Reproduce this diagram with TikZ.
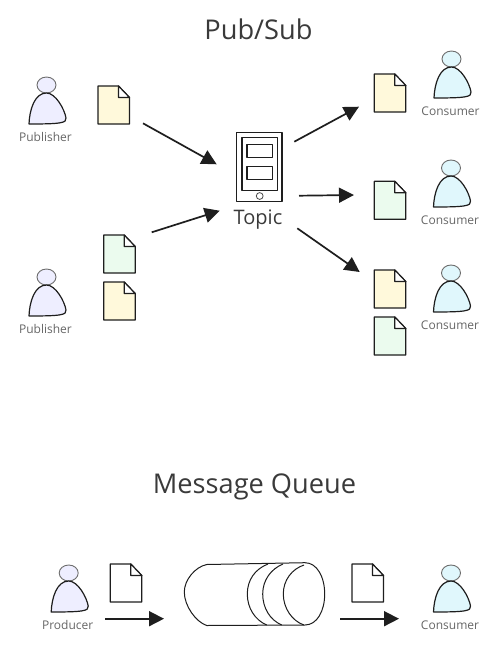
\documentclass[tikz,border=0pt]{standalone}
\usepackage{fontspec}
\setmainfont{Open Sans}[Numbers=Lining]
\usetikzlibrary{arrows.meta}
\definecolor{ink}{HTML}{1E1E1E}
\definecolor{txt}{HTML}{3A3A3A}
\definecolor{lab}{HTML}{666666}
\definecolor{pubfill}{HTML}{EEEEFF}
\definecolor{confill}{HTML}{E0F7FC}
\definecolor{docy}{HTML}{FFF9DB}
\definecolor{docg}{HTML}{EBFBEE}
\tikzset{
  x=1pt,y=-1pt,
  sk/.style={draw=ink,line width=1.2pt,line join=round},
  flow/.style={draw=ink,line width=1.7pt,-{Triangle[length=15pt,width=15pt]}},
  title/.style={text=txt,font=\fontsize{27.2}{31}\selectfont,inner sep=0pt},
  plabel/.style={text=lab,font=\fontsize{12}{14}\selectfont,inner sep=0pt},
  pics/person/.style n args={2}{code={
    \draw[draw=ink!65,line width=.9pt,fill=#1] (0,0) ellipse[x radius=9.5,y radius=8];
    \draw[sk,fill=#1] (-17.5,39) .. controls (-17,25) and (-12,8) .. (0,8)
      .. controls (9,8) and (18,24) .. (19.5,33)
      .. controls (20.5,38) and (14,39) .. (-17.5,39) -- cycle;
    \node[plabel] (-lab) at (-1,52) {#2};
  }},
  pics/doc/.style={code={
    \draw[sk,fill=#1] (0,0) -- (20.5,0) -- (31.5,11.5) -- (31.5,38) -- (0,38) -- cycle;
    \draw[sk,fill=white] (20.5,0) -- (20.5,11.5) -- (31.5,11.5) -- cycle;
  }}
}
\begin{document}
\begin{tikzpicture}
\useasboundingbox (0,0) rectangle (498,651);
\node[title] (t1) at (258.5,29.5) {Pub/Sub};
\node[title] (t2) at (254.5,487) {Message Queue};
% people
\pic (p1) at (46.5,85) {person={pubfill}{Publisher}};
\pic (p2) at (46.5,277) {person={pubfill}{Publisher}};
\pic (c1) at (451.5,59) {person={confill}{Consumer}};
\pic (c2) at (451,168) {person={confill}{Consumer}};
\pic (c3) at (451,273) {person={confill}{Consumer}};
\pic (pr) at (68.7,573) {person={pubfill}{Producer}};
\pic (c4) at (451,573) {person={confill}{Consumer}};
% documents
\pic (d1) at (98,86) {doc=docy};
\pic (d2) at (103.7,235) {doc=docg};
\pic (d3) at (103.7,282) {doc=docy};
\pic (d4) at (374.3,74) {doc=docy};
\pic (d5) at (374.3,181.3) {doc=docg};
\pic (d6) at (374.3,270) {doc=docy};
\pic (d7) at (374.3,317) {doc=docg};
\pic (d8) at (110.3,564) {doc=white};
\pic (d9) at (352,564) {doc=white};
% topic device
\draw[sk] (236.7,132.3) rectangle (282,201.3);
\draw[sk] (242,137.7) rectangle (277.3,190.7);
\draw[sk] (247,144.3) rectangle (272.7,157.3);
\draw[sk] (247,166.7) rectangle (272.7,179.7);
\draw[draw=ink!80,line width=.8pt] (259.7,196) circle[radius=3.4];
\node[text=txt,font=\fontsize{20}{24}\selectfont,inner sep=0pt] (topic) at (258,220) {Topic};
% cylinder
\draw[sk,line width=1pt] (206.7,564.5) -- (305,562.7)
  .. controls (317,562.7) and (324.7,577) .. (324.7,594)
  .. controls (324.7,611) and (317,625) .. (305,625) -- (206.7,625.5)
  .. controls (196,622) and (184.3,606) .. (184.3,592)
  .. controls (184.3,580) and (195,567) .. (206.7,564.5) -- cycle;
\draw[sk,line width=1pt] (304,565) .. controls (292,569) and (283.3,580) .. (283.3,594)
  .. controls (283.3,608) and (292,621) .. (304,625);
\draw[sk,line width=1pt] (283,564) .. controls (271,569) and (262.7,580) .. (262.7,594)
  .. controls (262.7,608) and (270,620) .. (281.7,625);
\draw[sk,line width=1pt] (268,564) .. controls (255,569) and (247.3,580) .. (247.3,594)
  .. controls (247.3,608) and (255,620) .. (266.7,625);
% connectors
\coordinate (a1s) at (143,123.3);   \coordinate (a1e) at (216.7,164.3);
\coordinate (a2s) at (151.7,232.3); \coordinate (a2e) at (219.7,210.7);
\coordinate (a3s) at (294.3,141.7); \coordinate (a3e) at (359,106.7);
\coordinate (a4s) at (299,195.7);   \coordinate (a4e) at (354,195);
\coordinate (a5s) at (297.3,228.3); \coordinate (a5e) at (359.7,272);
\coordinate (a6s) at (105,618.7);   \coordinate (a6e) at (164,618.7);
\coordinate (a7s) at (340,618.7);   \coordinate (a7e) at (399,618.7);
\foreach \n in {1,...,7} \draw[flow] (a\n s) -- (a\n e);
\end{tikzpicture}
\end{document}
